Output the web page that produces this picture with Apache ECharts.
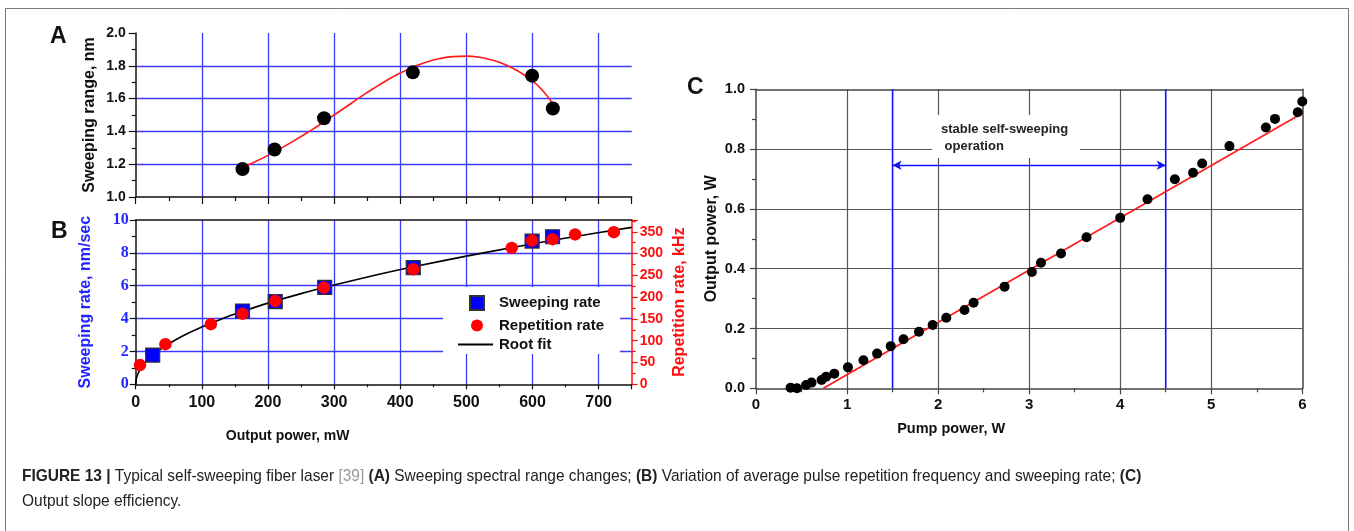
<!DOCTYPE html>
<html>
<head>
<meta charset="utf-8">
<script src="https://cdn.jsdelivr.net/npm/echarts@6/dist/echarts.min.js"></script>
<style>
html,body{margin:0;padding:0;background:#fff;}
#chart{width:1354px;height:531px;}
</style>
</head>
<body>
<div id="chart"></div>
<script>
// ---------- Panel A: sweeping range vs output power ----------
const rangePowerX = [161.5, 210, 284.8, 419, 599.4, 630.8];
const rangeY = [1.17, 1.29, 1.48, 1.76, 1.74, 1.54];
const rangeFitX = [161.5, 180, 200, 220, 240, 260, 280, 300, 320, 340, 360, 380, 400, 420, 440, 460, 480, 500, 520, 540, 560, 580, 600, 615, 630];
const rangeFitY = [1.180, 1.214, 1.254, 1.298, 1.345, 1.394, 1.445, 1.500, 1.555, 1.610, 1.663, 1.712, 1.756, 1.793, 1.823, 1.844, 1.856, 1.859, 1.852, 1.834, 1.805, 1.763, 1.708, 1.651, 1.573];

// ---------- Panel B: sweeping rate and repetition rate ----------
const sweepRateX = [25.7, 161.5, 211, 285.8, 419.7, 599.4, 630.3];
const sweepRateY = [1.78, 4.46, 5.03, 5.9, 7.1, 8.72, 8.98];
const repRateX = [6.5, 44.9, 113.6, 161.5, 211, 284.8, 419.7, 568.6, 599.4, 630.3, 664.5, 723];
const repRateY = [44, 92, 138, 162, 191, 222, 264, 313, 330, 333, 344, 349];
const rootFitX = [0, 1, 2, 4, 7, 10, 15, 20, 30, 45, 60, 80, 100, 130, 160, 200, 250, 300, 360, 420, 500, 580, 660, 750];
const rootFitY = [0, 0.35, 0.49, 0.70, 0.92, 1.10, 1.35, 1.56, 1.91, 2.34, 2.70, 3.12, 3.49, 3.98, 4.41, 4.94, 5.52, 6.04, 6.62, 7.15, 7.80, 8.40, 8.97, 9.55];

// ---------- Panel C: output power vs pump power ----------
const pumpX = [0.38, 0.45, 0.55, 0.61, 0.72, 0.77, 0.86, 1.01, 1.18, 1.33, 1.48, 1.62, 1.79, 1.94, 2.09, 2.29, 2.39, 2.73, 3.03, 3.13, 3.35, 3.63, 4.00, 4.30, 4.60, 4.80, 4.90, 5.20, 5.60, 5.70, 5.95, 6.00];
const outputY = [0.002, 0.0, 0.011, 0.019, 0.028, 0.039, 0.049, 0.070, 0.094, 0.116, 0.141, 0.164, 0.189, 0.212, 0.236, 0.262, 0.286, 0.340, 0.389, 0.420, 0.451, 0.505, 0.570, 0.632, 0.699, 0.721, 0.752, 0.810, 0.872, 0.901, 0.923, 0.959];
const slopeFitX = [0.74, 6.0];
const slopeFitY = [0.0, 0.92];
const stableRange = [1.5, 4.5];
const arrowLevel = 0.746;

const zip = (xs, ys) => xs.map((x, i) => [x, ys[i]]);

const FONT = 'Liberation Sans, Arial, sans-serif';
const BLUE = '#2424ff';
const GRIDBLUE = '#3a3aff';
const CAPFONT = 'Liberation Sans, Arial, sans-serif';

function lbl(size, color) {
  return { fontFamily: FONT, fontWeight: 'bold', fontSize: size, color: color || '#111' };
}

const chart = echarts.init(document.getElementById('chart'), null, { renderer: 'canvas' });

const option = {
  animation: false,
  backgroundColor: '#fff',
  grid: [
    { left: 135.7, top: 33, width: 496, height: 164 },
    { left: 135.7, top: 220, width: 496, height: 164.3 },
    { left: 756, top: 89.3, width: 546.3, height: 299 }
  ],
  xAxis: [
    { // A bottom
      type: 'value', gridIndex: 0, min: 0, max: 750, interval: 100,
      axisLine: { show: true, onZero: false, lineStyle: { color: '#111', width: 1.5 } },
      axisTick: { show: true, length: 7, lineStyle: { color: '#111', width: 1.2 } },
      minorTick: { show: true, splitNumber: 2, length: 4, lineStyle: { color: '#111', width: 1.2 } },
      axisLabel: { show: false },
      splitLine: { show: true, showMinLine: false, showMaxLine: false, lineStyle: { color: GRIDBLUE, width: 1.3 } }
    },
    { // B bottom
      type: 'value', gridIndex: 1, min: 0, max: 750, interval: 100,
      name: 'Output power, mW', nameLocation: 'middle', nameGap: 45,
      nameTextStyle: Object.assign(lbl(14), { padding: [0, 192, 0, 0] }),
      axisLine: { show: true, onZero: false, lineStyle: { color: '#111', width: 1.5 } },
      axisTick: { show: true, length: 5, lineStyle: { color: '#111', width: 1.2 } },
      minorTick: { show: true, splitNumber: 2, length: 3, lineStyle: { color: '#111', width: 1.2 } },
      axisLabel: Object.assign(lbl(16), { margin: 10, showMaxLabel: false }),
      splitLine: { show: true, showMinLine: false, showMaxLine: false, lineStyle: { color: GRIDBLUE, width: 1.3 } }
    },
    { // B top border
      type: 'value', gridIndex: 1, position: 'top', min: 0, max: 750,
      axisLine: { show: true, onZero: false, lineStyle: { color: '#111', width: 1.5 } },
      axisTick: { show: false }, axisLabel: { show: false }, splitLine: { show: false }
    },
    { // C bottom
      type: 'value', gridIndex: 2, min: 0, max: 6, interval: 1,
      name: 'Pump power, W', nameLocation: 'middle', nameGap: 33,
      nameTextStyle: Object.assign(lbl(14.5), { padding: [0, 156, 0, 0] }),
      axisLine: { show: true, onZero: false, lineStyle: { color: '#444', width: 1.5 } },
      axisTick: { show: true, length: 6, lineStyle: { color: '#444', width: 1.2 } },
      minorTick: { show: true, splitNumber: 2, length: 4, lineStyle: { color: '#444', width: 1.2 } },
      axisLabel: Object.assign(lbl(15), { margin: 9 }),
      splitLine: { show: true, showMinLine: false, showMaxLine: false, lineStyle: { color: '#555', width: 1.2 } }
    },
    { // C top border
      type: 'value', gridIndex: 2, position: 'top', min: 0, max: 6,
      axisLine: { show: true, onZero: false, lineStyle: { color: '#444', width: 1.5 } },
      axisTick: { show: false }, axisLabel: { show: false }, splitLine: { show: false }
    }
  ],
  yAxis: [
    { // A left
      type: 'value', gridIndex: 0, min: 1.0, max: 2.0, interval: 0.2,
      name: 'Sweeping range, nm', nameLocation: 'middle', nameGap: 38,
      nameTextStyle: lbl(16),
      axisLine: { show: true, onZero: false, lineStyle: { color: '#111', width: 1.5 } },
      axisTick: { show: true, length: 7, lineStyle: { color: '#111', width: 1.2 } },
      minorTick: { show: true, splitNumber: 2, length: 4, lineStyle: { color: '#111', width: 1.2 } },
      axisLabel: Object.assign(lbl(14), { margin: 10, formatter: v => v.toFixed(1) }),
      splitLine: { show: true, showMinLine: false, showMaxLine: false, lineStyle: { color: GRIDBLUE, width: 1.3 } }
    },
    { // B left
      type: 'value', gridIndex: 1, min: 0, max: 10, interval: 2,
      name: 'Sweeping rate, nm/sec', nameLocation: 'middle', nameGap: 42,
      nameTextStyle: lbl(16, BLUE),
      axisLine: { show: true, onZero: false, lineStyle: { color: '#111', width: 1.5 } },
      axisTick: { show: true, length: 6, lineStyle: { color: '#111', width: 1.2 } },
      minorTick: { show: true, splitNumber: 2, length: 4, lineStyle: { color: '#111', width: 1.2 } },
      axisLabel: { fontFamily: 'Liberation Serif, Times New Roman, serif', fontWeight: 'bold', fontSize: 16, color: BLUE, margin: 7 },
      splitLine: { show: true, showMinLine: false, showMaxLine: false, lineStyle: { color: GRIDBLUE, width: 1.3 } }
    },
    { // B right (kHz)
      type: 'value', gridIndex: 1, position: 'right', min: 0, max: 377, interval: 50,
      name: 'Repetition rate, kHz', nameLocation: 'middle', nameGap: 40, nameRotate: 90,
      nameTextStyle: lbl(16, '#ff1010'),
      axisLine: { show: true, onZero: false, lineStyle: { color: '#ff1010', width: 1.5 } },
      axisTick: { show: true, length: 6, lineStyle: { color: '#ff1010', width: 1.2 } },
      minorTick: { show: true, splitNumber: 2, length: 4, lineStyle: { color: '#ff1010', width: 1.2 } },
      axisLabel: Object.assign(lbl(14, '#ff1010'), { margin: 8, showMaxLabel: false }),
      splitLine: { show: false }
    },
    { // C left
      type: 'value', gridIndex: 2, min: 0, max: 1.0, interval: 0.2,
      name: 'Output power, W', nameLocation: 'middle', nameGap: 36,
      nameTextStyle: lbl(16),
      axisLine: { show: true, onZero: false, lineStyle: { color: '#444', width: 1.5 } },
      axisTick: { show: true, length: 6, lineStyle: { color: '#444', width: 1.2 } },
      minorTick: { show: true, splitNumber: 2, length: 4, lineStyle: { color: '#444', width: 1.2 } },
      axisLabel: Object.assign(lbl(14.5), { margin: 11, formatter: v => v.toFixed(1) }),
      splitLine: { show: true, showMinLine: false, showMaxLine: false, lineStyle: { color: '#555', width: 1.2 } }
    },
    { // C right border
      type: 'value', gridIndex: 2, position: 'right', min: 0, max: 1.0,
      axisLine: { show: true, onZero: false, lineStyle: { color: '#444', width: 1.5 } },
      axisTick: { show: false }, axisLabel: { show: false }, splitLine: { show: false }
    }
  ],
  legend: [
    {
      data: ['Sweeping rate'], left: 469, top: 295, itemWidth: 14, itemHeight: 14,
      textStyle: Object.assign(lbl(15), { padding: [0, 0, 0, 10] }), padding: 0
    },
    {
      data: ['Repetition rate'], left: 471, top: 318, itemWidth: 12, itemHeight: 12,
      textStyle: Object.assign(lbl(15), { padding: [0, 0, 0, 11] }), padding: 0
    },
    {
      data: [{ name: 'Root fit', icon: 'rect' }], left: 458, top: 337, itemWidth: 35, itemHeight: 2,
      textStyle: Object.assign(lbl(15), { padding: [0, 0, 0, 1] }), padding: 0
    }
  ],
  series: [
    // Panel A
    {
      type: 'line', name: 'Range fit', xAxisIndex: 0, yAxisIndex: 0, smooth: 0.5, symbol: 'none',
      data: zip(rangeFitX, rangeFitY), lineStyle: { color: '#ff1a1a', width: 1.6 }, z: 2
    },
    {
      type: 'scatter', name: 'Sweeping range', xAxisIndex: 0, yAxisIndex: 0, symbolSize: 14,
      data: zip(rangePowerX, rangeY), itemStyle: { color: '#000', opacity: 1 }, z: 3
    },
    // Panel B
    {
      type: 'line', name: 'Root fit', xAxisIndex: 1, yAxisIndex: 1, smooth: 0.3, symbol: 'none',
      data: zip(rootFitX, rootFitY), lineStyle: { color: '#000', width: 1.6 }, itemStyle: { color: '#000' }, z: 2
    },
    {
      type: 'scatter', name: 'Sweeping rate', xAxisIndex: 1, yAxisIndex: 1, symbol: 'rect', symbolSize: 14,
      data: zip(sweepRateX, sweepRateY), itemStyle: { color: '#0000ff', borderColor: '#333', borderWidth: 1.2, opacity: 1 }, z: 3
    },
    {
      type: 'scatter', name: 'Repetition rate', xAxisIndex: 1, yAxisIndex: 2, symbol: 'circle', symbolSize: 12.5,
      data: zip(repRateX, repRateY), itemStyle: { color: '#ff0000', opacity: 1 }, z: 4
    },
    // Panel C
    {
      type: 'line', name: 'Stable start', xAxisIndex: 3, yAxisIndex: 3, symbol: 'none',
      data: [[stableRange[0], 0], [stableRange[0], 1]], lineStyle: { color: '#1010ff', width: 1.6 }, z: 2
    },
    {
      type: 'line', name: 'Stable end', xAxisIndex: 3, yAxisIndex: 3, symbol: 'none',
      data: [[stableRange[1], 0], [stableRange[1], 1]], lineStyle: { color: '#1010ff', width: 1.6 }, z: 2,
      markLine: {
        silent: true, symbol: ['arrow', 'arrow'], symbolSize: [7, 9],
        label: { show: false },
        lineStyle: { color: '#1010ff', width: 1.4, type: 'solid' },
        data: [[{ coord: [stableRange[0], arrowLevel] }, { coord: [stableRange[1], arrowLevel] }]]
      }
    },
    {
      type: 'line', name: 'Slope fit', xAxisIndex: 3, yAxisIndex: 3, symbol: 'none',
      data: zip(slopeFitX, slopeFitY), lineStyle: { color: '#ff1a1a', width: 1.6 }, z: 3
    },
    {
      type: 'scatter', name: 'Output power', xAxisIndex: 3, yAxisIndex: 3, symbolSize: 10,
      data: zip(pumpX, outputY), itemStyle: { color: '#000', opacity: 1 }, z: 4
    }
  ],
  graphic: [
    { type: 'rect', z: 0, silent: true, shape: { x: 5.5, y: 8.5, width: 1343, height: 540 }, style: { fill: 'none', stroke: '#777', lineWidth: 1 } },
    { type: 'text', left: 50, top: 25, z: 10, style: { text: 'A', font: 'bold 23px Liberation Sans, Arial, sans-serif', fill: '#111' } },
    { type: 'text', left: 51, top: 220, z: 10, style: { text: 'B', font: 'bold 23px Liberation Sans, Arial, sans-serif', fill: '#111' } },
    { type: 'text', left: 687, top: 76, z: 10, style: { text: 'C', font: 'bold 23px Liberation Sans, Arial, sans-serif', fill: '#111' } },
    // legend backdrop in panel B
    { type: 'rect', z: 3, silent: true, shape: { x: 443, y: 287, width: 177, height: 67 }, style: { fill: '#fff' } },
    // annotation in panel C
    { type: 'rect', z: 3, silent: true, shape: { x: 932, y: 115, width: 148, height: 43 }, style: { fill: '#fff' } },
    { type: 'text', x: 941, y: 121, z: 5, style: { text: 'stable self-sweeping\n operation', font: 'bold 13px Liberation Sans, Arial, sans-serif', fill: '#222', lineHeight: 17 } },
    // caption
    {
      type: 'text', x: 22, y: 468, scaleX: 0.91, z: 10,
      style: {
        text: '{b|FIGURE 13 |}{n| Typical self-sweeping fiber laser }{g|[39]}{n| }{b|(A)}{n| Sweeping spectral range changes; }{b|(B)}{n| Variation of average pulse repetition frequency and sweeping rate; }{b|(C)}',
        rich: {
          b: { fontFamily: CAPFONT, fontWeight: 'bold', fontSize: 17, fill: '#222' },
          n: { fontFamily: CAPFONT, fontSize: 17, fill: '#222' },
          g: { fontFamily: CAPFONT, fontSize: 17, fill: '#999' }
        }
      }
    },
    {
      type: 'text', x: 22, y: 493, scaleX: 0.91, z: 10,
      style: { text: 'Output slope efficiency.', font: '17px Liberation Sans, Arial, sans-serif', fill: '#222' }
    }
  ]
};

chart.setOption(option);
</script>
</body>
</html>
